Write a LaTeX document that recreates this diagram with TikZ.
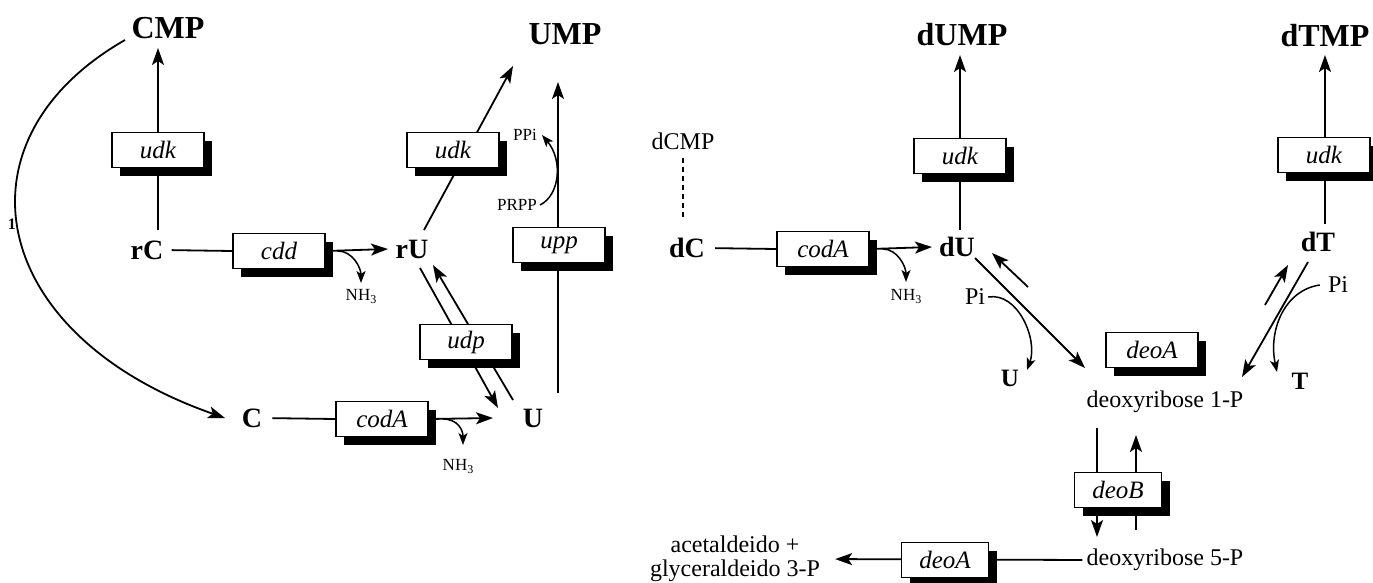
\documentclass[tikz,border=0pt]{standalone}
\usepackage{fontspec}
\setmainfont{Liberation Serif}
\usetikzlibrary{arrows.meta,shadows,backgrounds}
\begin{document}
\begin{tikzpicture}[x=1pt,y=-1pt,
  enz/.style={draw,line width=1.6pt,fill=white,minimum width=92pt,minimum height=35pt,inner sep=0pt,
    font=\fontsize{25}{25}\selectfont\itshape,
    drop shadow={shadow xshift=8pt,shadow yshift=-8pt,opacity=1,fill=black}},
  big/.style={font=\fontsize{32}{32}\selectfont\bfseries,inner sep=0pt},
  mid/.style={font=\fontsize{28}{28}\selectfont\bfseries,inner sep=0pt},
  lab/.style={font=\fontsize{24}{24}\selectfont,inner sep=0pt,align=center},
  sml/.style={font=\fontsize{17}{17}\selectfont,inner sep=0pt},
  ln/.style={line width=1.8pt},
  arr/.style={ln,-{Stealth[length=17pt,width=12pt,inset=4pt]}},
  sarr/.style={line width=1.5pt,-{Stealth[length=12pt,width=9pt,inset=3pt]}},
]
\useasboundingbox (0,0) rectangle (1373,582);

% metabolites
\node[big] (CMP) at (168,28) {CMP};
\node[big] (UMP) at (565,34) {UMP};
\node[big] (dUMP) at (962,35) {dUMP};
\node[big] (dTMP) at (1325,36) {dTMP};
\node[mid] (rC) at (147,250) {rC};
\node[mid] (rU) at (412,249) {rU};
\node[mid] (C) at (252,418) {C};
\node[mid] (U) at (533,418) {U};
\node[mid] (dC) at (687,248) {dC};
\node[mid] (dU) at (957,247) {dU};
\node[mid] (dT) at (1318,242) {dT};
\node[lab] (dCMP) at (683,141) {dCMP};
\node[lab] (d1P) at (1165,402) {deoxyribose 1-P};
\node[lab] (d5P) at (1165,560) {deoxyribose 5-P};
\node[lab] (acet) at (735,559) {acetaldeido +\\glyceraldeido 3-P};
\node[sml] (NH3a) at (361,296) {NH\raisebox{-3pt}{\fontsize{12}{12}\selectfont 3}};
\node[sml] (NH3b) at (458,466) {NH\raisebox{-3pt}{\fontsize{12}{12}\selectfont 3}};
\node[sml] (NH3c) at (906,296) {NH\raisebox{-3pt}{\fontsize{12}{12}\selectfont 3}};
\node[sml] (PPi) at (525,135) {PPi};
\node[sml] (PRPP) at (517,205) {PRPP};
\node[lab] (Pi1) at (975,297) {Pi};
\node[lab,font=\fontsize{25}{25}\selectfont\bfseries] (U2) at (1010,378) {U};
\node[lab] (Pi2) at (1338,285) {Pi};
\node[lab,font=\fontsize{25}{25}\selectfont\bfseries] (T) at (1300,381) {T};
\node[sml,font=\fontsize{16}{16}\selectfont\bfseries] (one) at (12,224) {1};

% enzymes
\node[enz] (udk1) at (158,150) {udk};
\node[enz] (cdd) at (279,251) {cdd};
\node[enz] (udk2) at (453,150) {udk};
\node[enz] (upp) at (559,245) {upp};
\node[enz] (udp) at (466,342) {udp};
\node[enz] (codA1) at (382,419) {codA};
\node[enz] (codA2) at (823,249) {codA};
\node[enz] (udk3) at (960,156) {udk};
\node[enz] (udk4) at (1324,155) {udk};
\node[enz] (deoA1) at (1152,350) {deoA};
\node[enz,minimum width=87pt] (deoB) at (1118,490) {deoB};
\node[enz,minimum width=87pt] (deoA2) at (945,560) {deoA};

\begin{scope}[on background layer]
% left part
\draw[arr] ([shift={(11,-20)}]rC.center) -- ([shift={(-10,20)}]CMP.center);
\draw[ln,shorten <=8pt] (rC.east) -- (cdd.west);
\draw[arr] (cdd.east) -- ([xshift=-24pt]rU.center);
\draw[sarr] ([xshift=12pt]cdd.east) .. controls +(15,0) and +(0,-15) .. ([shift={(0,-13)}]NH3a.center);
\draw[arr] ([shift={(12,-19)}]rU.center) -- ([shift={(-52,32)}]UMP.center);
\draw[arr] ([shift={(25,-25)}]U.center) -- ([shift={(-7,48)}]UMP.center);
\draw[sarr] ([xshift=3pt]PRPP.east) .. controls (560,195) and (563,160) .. ([xshift=5pt]PPi.east);
\draw[arr] ([shift={(8,19)}]rU.center) -- ([shift={(-35,-10)}]U.center);
\draw[arr] ([shift={(-20,-18)}]U.center) -- ([shift={(21,16)}]rU.center);
\draw[ln,shorten <=10pt] (C.east) -- (codA1.west);
\draw[arr] (codA1.east) -- ([xshift=-40pt]U.center);
\draw[sarr] ([xshift=14pt]codA1.east) .. controls +(15,0) and +(0,-15) .. ([shift={(5,-21)}]NH3b.center);
\draw[arr] ([shift={(-43,12)}]CMP.center) .. controls (-50,140) and (-13,335) .. ([xshift=-27pt]C.center);
% right part
\draw[ln,dash pattern=on 5pt off 4pt] ([yshift=-8pt]dCMP.south) -- ([yshift=28pt]dCMP.south |- dC.center);
\draw[ln,shorten <=10pt] (dC.east) -- (codA2.west);
\draw[arr] (codA2.east) -- ([xshift=-25pt]dU.center);
\draw[sarr] ([xshift=13pt]codA2.east) .. controls +(15,0) and +(0,-15) .. ([shift={(0,-14)}]NH3c.center);
\draw[arr] ([shift={(3,-17)}]dU.center) -- ([shift={(-2,20)}]dUMP.center);
\draw[arr] ([shift={(18,11)}]dU.center) -- ([shift={(-80,-34)}]d1P.center);
\draw[arr] ([shift={(71,40)}]dU.center) -- ([shift={(35,6)}]dU.center);
\draw[sarr] ([xshift=3pt]Pi1.east) .. controls +(30,-5) and +(11,-30) .. ([shift={(17,-8)}]U2.center);
\draw[arr] ([shift={(7,-18)}]dT.center) -- ([shift={(0,19)}]dTMP.center);
\draw[arr] ([shift={(-10,20)}]dT.center) -- ([shift={(77,-25)}]d1P.center);
\draw[arr] ([shift={(-53,63)}]dT.center) -- ([shift={(-30,23)}]dT.center);
\draw[sarr] ([xshift=-8pt]Pi2.west) .. controls +(-35,5) and +(-9,-42) .. ([shift={(-23,-9)}]T.center);
\draw[arr] ([shift={(-68,26)}]d1P.center) -- ([shift={(-68,-23)}]d5P.center);
\draw[arr] ([shift={(-29,-30)}]d5P.center) -- ([shift={(-29,33)}]d1P.center);
\draw[arr,shorten <=4pt,shorten >=15pt] (d5P.west) -- (acet.east);
\end{scope}
\end{tikzpicture}
\end{document}
